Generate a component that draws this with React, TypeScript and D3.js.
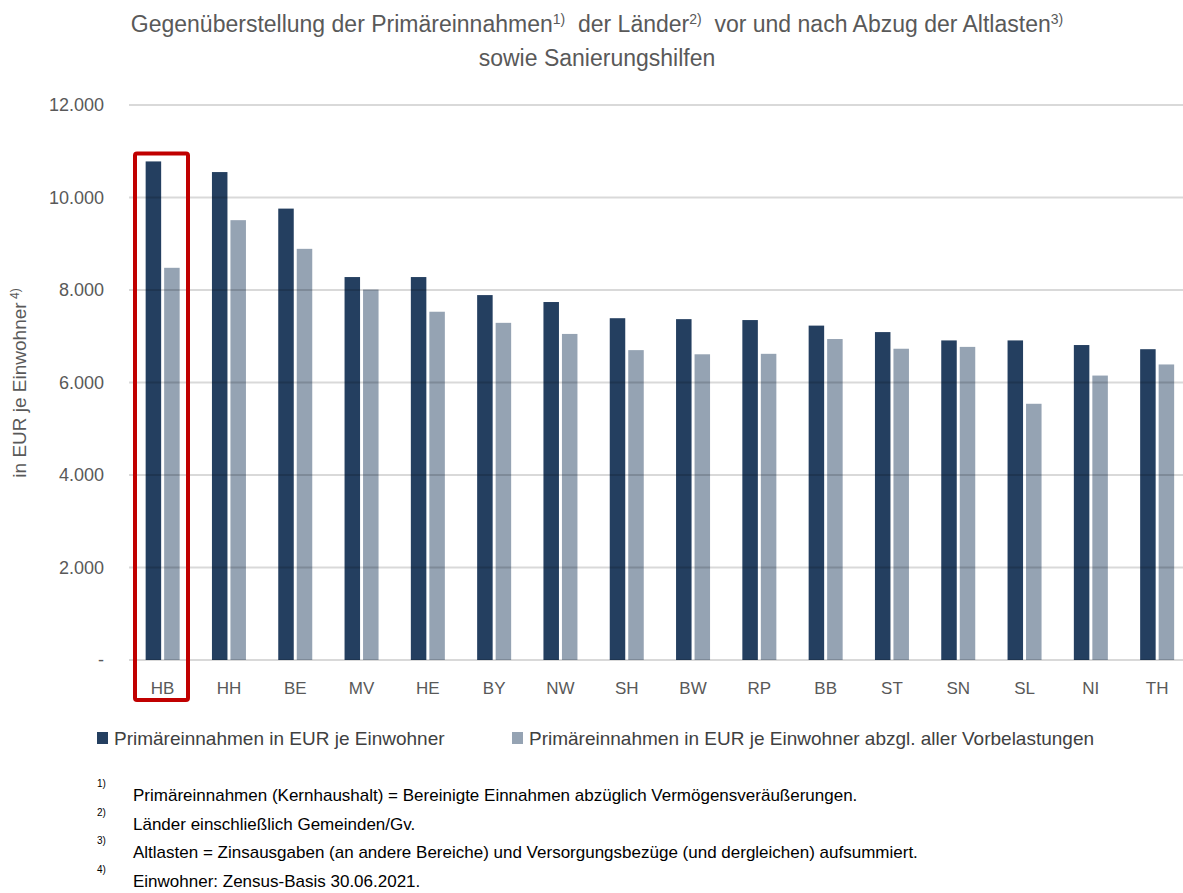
import React from "react";
import * as d3 from "d3";

// Länder, sorted by Primäreinnahmen
const categories = ["HB", "HH", "BE", "MV", "HE", "BY", "NW", "SH", "BW", "RP", "BB", "ST", "SN", "SL", "NI", "TH"];
// EUR je Einwohner
const primary = [10780, 10550, 9760, 8280, 8280, 7890, 7740, 7390, 7370, 7350, 7230, 7090, 6910, 6910, 6810, 6720];
const afterBurdens = [8480, 9510, 8890, 8010, 7530, 7290, 7050, 6700, 6610, 6620, 6940, 6730, 6770, 5540, 6150, 6390];
const yTicks = [0, 2000, 4000, 6000, 8000, 10000, 12000];
const seriesNames = [
  "Primäreinnahmen in EUR je Einwohner",
  "Primäreinnahmen in EUR je Einwohner abzgl. aller Vorbelastungen",
];
const footnotes = [
  "Primäreinnahmen (Kernhaushalt) = Bereinigte Einnahmen abzüglich Vermögensveräußerungen.",
  "Länder einschließlich Gemeinden/Gv.",
  "Altlasten = Zinsausgaben (an andere Bereiche) und Versorgungsbezüge (und dergleichen) aufsummiert.",
  "Einwohner: Zensus-Basis 30.06.2021.",
];
const highlighted = "HB";

const W = 1183;
const H = 893;
const DARK = "#243f60";
const LIGHT = "#95a3b3";
const GREY_TEXT = "#595959";
const FONT = "'Liberation Sans', Arial, sans-serif";

const x = d3.scaleBand<string>().domain(categories).range([129.5, 1190.3]);
const inner = d3
  .scaleBand<string>()
  .domain(["a", "b"])
  .range([0, x.bandwidth()])
  .paddingInner(0.162)
  .paddingOuter(0.873);
const y = d3.scaleLinear().domain([0, 12000]).range([660, 105]);

const fmt = (v: number) => (v === 0 ? "-" : d3.format(",")(v).replace(/,/g, "."));

export default function App() {
  const series = [
    { key: "a", values: primary, color: DARK },
    { key: "b", values: afterBurdens, color: LIGHT },
  ];
  const hx = x(highlighted)!;
  const hi = categories.indexOf(highlighted);

  return (
    <svg
      width={W}
      height={H}
      style={{ position: "absolute", left: 0, top: 0, background: "#fff" }}
      fontFamily={FONT}
    >
      {/* title */}
      <text x={597} y={32} textAnchor="middle" fontSize={23} fill={GREY_TEXT}>
        Gegenüberstellung der Primäreinnahmen
        <tspan fontSize={14} dy={-8}>1)</tspan>
        <tspan dy={8}>{"\u00a0 der Länder"}</tspan>
        <tspan fontSize={14} dy={-8}>2)</tspan>
        <tspan dy={8}>{"\u00a0 vor und nach Abzug der Altlasten"}</tspan>
        <tspan fontSize={14} dy={-8}>3)</tspan>
      </text>
      <text x={597} y={66} textAnchor="middle" fontSize={23} fill={GREY_TEXT}>
        sowie Sanierungshilfen
      </text>

      {/* bars */}
      {series.map((s) =>
        categories.map((c, i) => (
          <rect
            key={s.key + c}
            x={x(c)! + inner(s.key)!}
            y={y(s.values[i])}
            width={inner.bandwidth()}
            height={y(0) - y(s.values[i])}
            fill={s.color}
          />
        ))
      )}

      {/* gridlines over the bars */}
      {yTicks.map((t) => (
        <line key={t} x1={129} x2={1183} y1={y(t)} y2={y(t)} stroke="#000" strokeOpacity={0.15} strokeWidth={2} />
      ))}

      {/* y axis labels */}
      {yTicks.map((t) => (
        <text key={t} x={104} y={y(t) + 6} textAnchor="end" fontSize={18} fill={GREY_TEXT}>
          {fmt(t)}
        </text>
      ))}
      <text transform={`translate(26,383) rotate(-90)`} textAnchor="middle" fontSize={19} fill={GREY_TEXT}>
        in EUR je Einwohner
        <tspan fontSize={12} dy={-7}>{"\u00a04)"}</tspan>
      </text>

      {/* x labels */}
      {categories.map((c) => (
        <text key={c} x={x(c)! + x.bandwidth() / 2} y={694} textAnchor="middle" fontSize={17} fill={GREY_TEXT}>
          {c}
        </text>
      ))}

      {/* highlight box */}
      <rect
        x={hx + 5.5}
        y={y(primary[hi]) - 8}
        width={53}
        height={y(0) + 40 - (y(primary[hi]) - 8)}
        rx={2}
        fill="none"
        stroke="#c00000"
        strokeWidth={4}
      />

      {/* legend */}
      {series.map((s, i) => {
        const lx = i === 0 ? 97 : 512;
        return (
          <g key={s.key}>
            <rect x={lx} y={732} width={11} height={12} fill={s.color} />
            <text x={lx + 17} y={745} fontSize={19} fill="#404040">
              {seriesNames[i]}
            </text>
          </g>
        );
      })}

      {/* footnotes */}
      {footnotes.map((f, i) => (
        <g key={i}>
          <text x={97} y={787 + i * 28.7} fontSize={10} fill="#000">
            {`${i + 1})`}
          </text>
          <text x={133} y={801 + i * 28.7} fontSize={17} fill="#000">
            {f}
          </text>
        </g>
      ))}
    </svg>
  );
}
